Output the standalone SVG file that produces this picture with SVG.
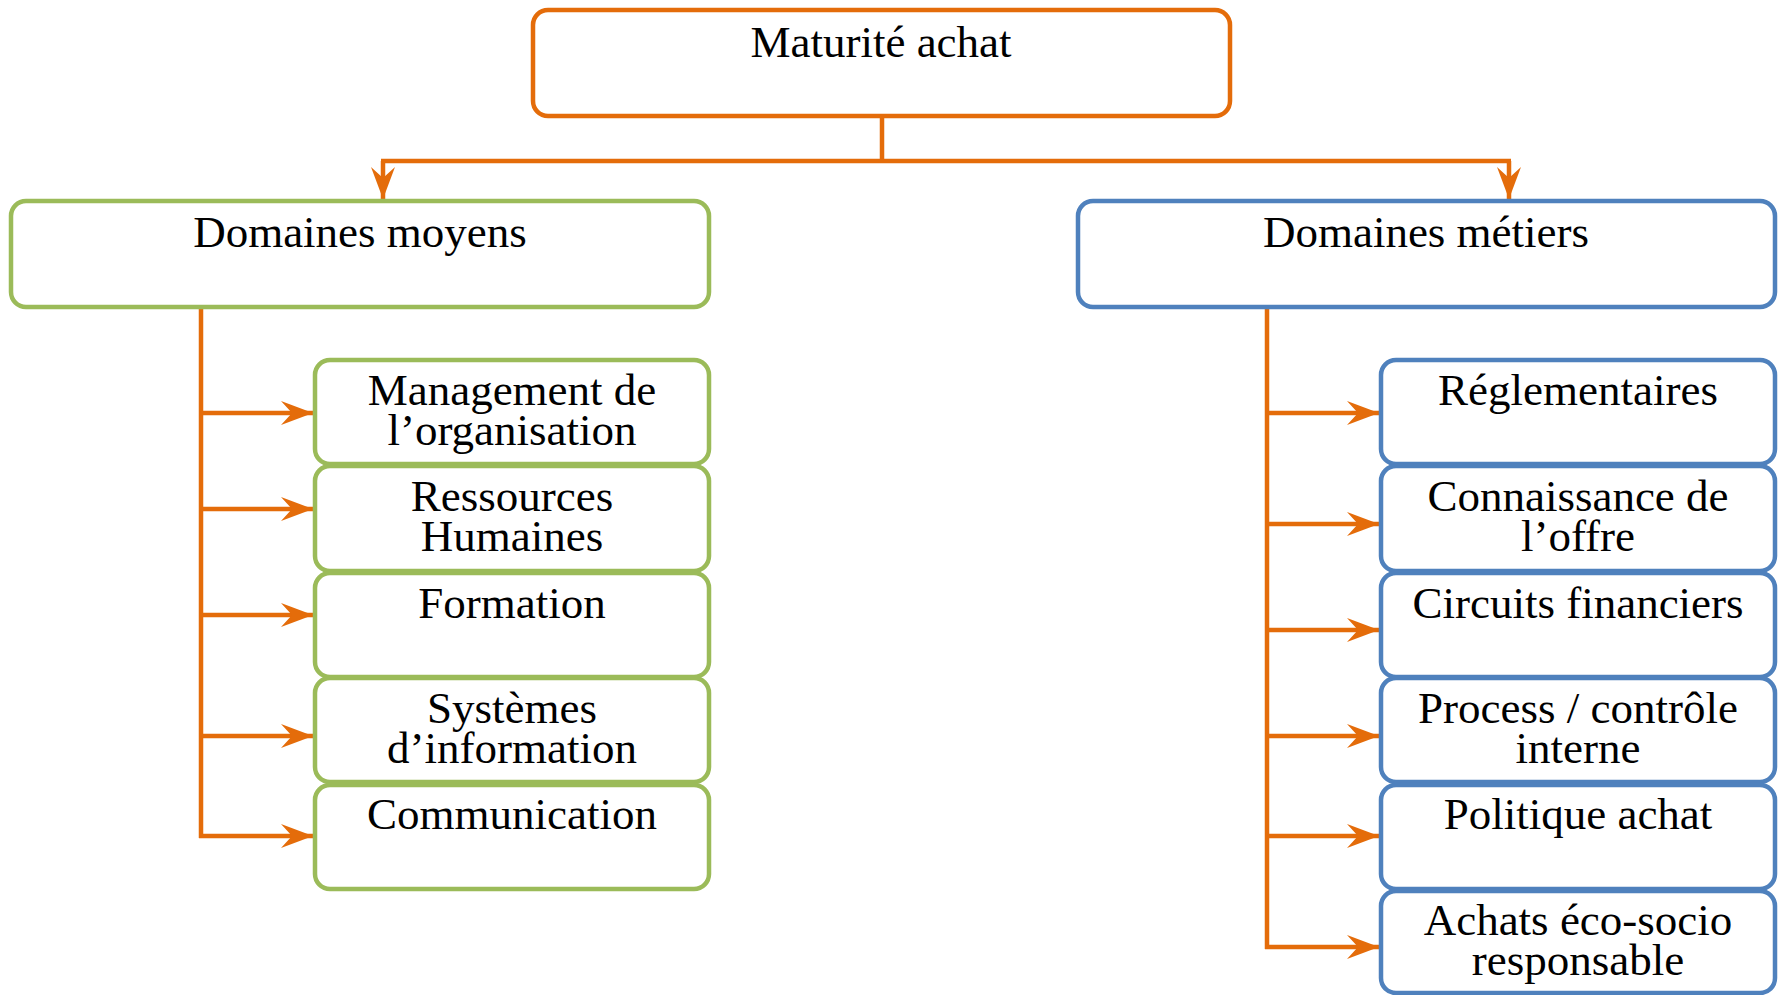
<svg xmlns="http://www.w3.org/2000/svg" width="1779" height="995" viewBox="0 0 1779 995">
<style>
.box{fill:#fff;stroke-width:4.5}
.o{stroke:#E46C0A}
.g{stroke:#9BBB59}
.b{stroke:#4F81BD}
.t{font-family:"Liberation Serif","Times New Roman",serif;font-size:45px;fill:#000;text-anchor:middle}
.c{fill:none;stroke:#E46C0A;stroke-width:4.5}
</style>
<defs>
<marker id="ah" markerUnits="userSpaceOnUse" markerWidth="34" markerHeight="26" refX="32" refY="13" orient="auto">
<path d="M0,1 L32,13 L0,25 L11,13 Z" fill="#E46C0A"/>
</marker>
</defs>
<g id="connectors">
<path class="c" d="M882,116 V161 M381,161 H1511"/>
<path class="c" d="M383,161 V199" marker-end="url(#ah)"/>
<path class="c" d="M1509,161 V199" marker-end="url(#ah)"/>
<path class="c" d="M201,307 V838"/>
<path class="c" d="M199,413 H313" marker-end="url(#ah)"/>
<path class="c" d="M199,509 H313" marker-end="url(#ah)"/>
<path class="c" d="M199,615 H313" marker-end="url(#ah)"/>
<path class="c" d="M199,736 H313" marker-end="url(#ah)"/>
<path class="c" d="M199,836 H313" marker-end="url(#ah)"/>
<path class="c" d="M1267,307 V949"/>
<path class="c" d="M1265,413 H1379" marker-end="url(#ah)"/>
<path class="c" d="M1265,524 H1379" marker-end="url(#ah)"/>
<path class="c" d="M1265,630 H1379" marker-end="url(#ah)"/>
<path class="c" d="M1265,736 H1379" marker-end="url(#ah)"/>
<path class="c" d="M1265,836 H1379" marker-end="url(#ah)"/>
<path class="c" d="M1265,947 H1379" marker-end="url(#ah)"/>
</g>
<g id="maturite">
<rect class="box o" x="533" y="10" width="697" height="106" rx="15"/>
<text class="t" x="881" y="57">Maturité achat</text>
</g>
<g id="domaines-moyens">
<rect class="box g" x="11" y="201" width="698" height="106" rx="15"/>
<text class="t" x="360" y="247">Domaines moyens</text>
</g>
<g id="domaines-metiers">
<rect class="box b" x="1078" y="201" width="697" height="106" rx="15"/>
<text class="t" x="1426" y="247">Domaines métiers</text>
</g>
<g id="management">
<rect class="box g" x="315" y="360" width="394" height="104" rx="15"/>
<text class="t" x="512" y="405">Management de<tspan x="512" dy="40">l’organisation</tspan></text>
</g>
<g id="rh">
<rect class="box g" x="315" y="466" width="394" height="105" rx="15"/>
<text class="t" x="512" y="511">Ressources<tspan x="512" dy="40">Humaines</tspan></text>
</g>
<g id="formation">
<rect class="box g" x="315" y="573" width="394" height="104" rx="15"/>
<text class="t" x="512" y="618">Formation</text>
</g>
<g id="si">
<rect class="box g" x="315" y="678" width="394" height="104" rx="15"/>
<text class="t" x="512" y="723">Systèmes<tspan x="512" dy="40">d’information</tspan></text>
</g>
<g id="communication">
<rect class="box g" x="315" y="785" width="394" height="104" rx="15"/>
<text class="t" x="512" y="829">Communication</text>
</g>
<g id="reglementaires">
<rect class="box b" x="1381" y="360" width="394" height="104" rx="15"/>
<text class="t" x="1578" y="405">Réglementaires</text>
</g>
<g id="connaissance">
<rect class="box b" x="1381" y="466" width="394" height="105" rx="15"/>
<text class="t" x="1578" y="511">Connaissance de<tspan x="1578" dy="40">l’offre</tspan></text>
</g>
<g id="circuits">
<rect class="box b" x="1381" y="573" width="394" height="104" rx="15"/>
<text class="t" x="1578" y="618">Circuits financiers</text>
</g>
<g id="process">
<rect class="box b" x="1381" y="678" width="394" height="104" rx="15"/>
<text class="t" x="1578" y="723">Process / contrôle<tspan x="1578" dy="40">interne</tspan></text>
</g>
<g id="politique">
<rect class="box b" x="1381" y="785" width="394" height="104" rx="15"/>
<text class="t" x="1578" y="829">Politique achat</text>
</g>
<g id="achats">
<rect class="box b" x="1381" y="891" width="394" height="102" rx="15"/>
<text class="t" x="1578" y="935">Achats éco-socio<tspan x="1578" dy="40">responsable</tspan></text>
</g>
</svg>
